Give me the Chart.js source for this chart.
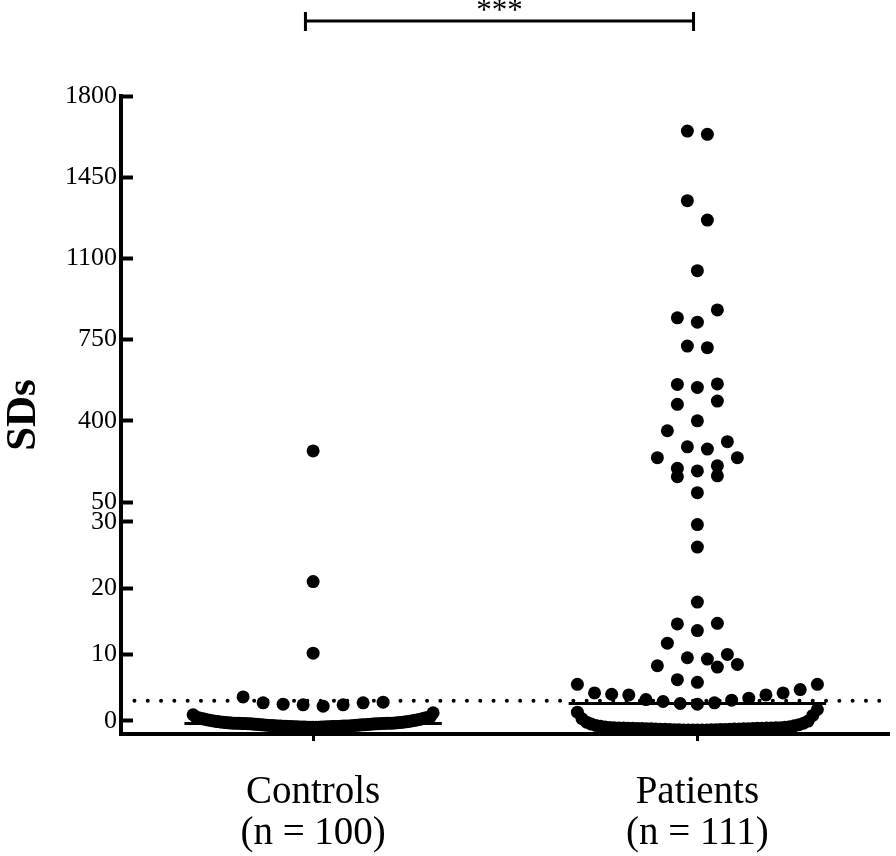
<!DOCTYPE html>
<html>
<head>
<meta charset="utf-8">
<script src="https://cdn.jsdelivr.net/npm/chart.js@4.4.1/dist/chart.umd.min.js"></script>
<style>
html,body{margin:0;padding:0;background:#fff;}
#wrap{width:896px;height:856px;position:relative;}
</style>
</head>
<body>
<div id="wrap"><canvas id="c"></canvas></div>
<script>
// ---------- data ----------
const categories = [['Controls', '(n = 100)'], ['Patients', '(n = 111)']];

const controlsValues = [
  270, 21, 10.2,
  3.6, 2.8, 2.7, 2.7, 2.5, 2.4, 2.4, 2.2,
  1.2, 0.9,
  -1.0, -1.0, -1.0, -0.98, -0.97, -0.96, -0.95, -0.95, -0.94, -0.93, -0.92, -0.91, -0.90,
  -0.89, -0.88, -0.87, -0.86, -0.85, -0.85, -0.84, -0.83, -0.82, -0.81, -0.80, -0.80, -0.79,
  -0.78, -0.76, -0.75, -0.73, -0.72, -0.70, -0.69, -0.67, -0.66, -0.64, -0.62, -0.61, -0.59, -0.57, -0.55,
  -0.54, -0.52, -0.50, -0.49, -0.47, -0.46, -0.45, -0.44, -0.43, -0.42, -0.41, -0.40, -0.39, -0.38, -0.37, -0.37, -0.36, -0.36, -0.35,
  -0.33, -0.31, -0.29, -0.27, -0.25, -0.23, -0.21, -0.19, -0.16, -0.13, -0.10, -0.07, -0.04, 0.0, 0.04,
  0.08, 0.12, 0.16, 0.2, 0.25, 0.3, 0.35, 0.4, 0.45, 0.5, 0.55, 0.6
];

const patientsValues = [
  1649, 1635, 1349, 1265, 1047, 878, 844, 825, 722, 715, 559, 557, 544, 485, 471, 400,
  357, 310, 288, 278, 241, 241, 206, 195, 184, 163, 159, 90,
  29.6, 26.2, 17.9, 14.7, 14.6, 13.6, 11.7, 10.0, 9.5, 9.3, 8.5, 8.3, 8.1, 6.2, 5.8,
  5.5, 5.5, 4.7, 4.2, 4.2, 4.0, 3.9, 3.9, 3.4, 3.2, 3.1, 2.9, 2.7, 2.6, 2.5,
  -1.40, -1.40, -1.39, -1.39, -1.38, -1.38, -1.37, -1.36, -1.35, -1.34, -1.33, -1.32, -1.31, -1.30, -1.29, -1.27, -1.25,
  -1.24, -1.23, -1.22, -1.21, -1.20, -1.19, -1.18, -1.17, -1.16, -1.15, -1.14, -1.13, -1.12, -1.11, -1.10, -1.09, -1.08, -1.06, -1.05, -1.04, -1.02, -1.00,
  -0.95, -0.90, -0.84, -0.77, -0.70, -0.60, -0.50, -0.38, -0.22, -0.05, 0.30, 0.80, 1.30, 1.70
];

const medians = [-0.4, 2.6];          // median line of each group
const cutoffValue = 3;                // dotted reference line
const yLowTicks = [0, 10, 20, 30];
const yHighTicks = [50, 400, 750, 1100, 1450, 1800];
const xTickValues = [1, 2];
const significanceText = '***';
const bracketRange = [0.98, 1.99];

// ---------- layout / style constants ----------
const SPLIT = 40;            // values above go on the upper (broken) segment
const LOW_RANGE = [-2, 33];
const HIGH_RANGE = [50, 1800];
const ROW_PX = 21;           // swarm row height (px)
const MAX_STEP = 20;         // max horizontal spacing between dots (px)
const MAX_SPAN = 240;        // max width of a swarm row (px)
const MEDIAN_HALF = 0.335;
const CUTOFF_FROM = 0.535;
const SERIF = "'Liberation Serif', 'Times New Roman', serif";

function pts(values, group, high) {
  return values.filter(v => high ? v >= SPLIT : v < SPLIT).map(v => ({x: group, y: v}));
}

const dotStyle = {
  type: 'scatter', pointRadius: 6.5, pointHoverRadius: 6.5, pointBorderWidth: 0,
  backgroundColor: '#000', borderColor: '#000', xAxisID: 'x'
};
const lineStyle = {
  type: 'line', showLine: true, pointRadius: 0, fill: false, tension: 0,
  borderColor: '#000', xAxisID: 'x', yAxisID: 'yLow'
};

const datasets = [
  Object.assign({label: 'Controls', data: pts(controlsValues, 1, false), yAxisID: 'yLow', group: 1}, dotStyle),
  Object.assign({label: 'Controls', data: pts(controlsValues, 1, true), yAxisID: 'yHigh', group: 1}, dotStyle),
  Object.assign({label: 'Patients', data: pts(patientsValues, 2, false), yAxisID: 'yLow', group: 2}, dotStyle),
  Object.assign({label: 'Patients', data: pts(patientsValues, 2, true), yAxisID: 'yHigh', group: 2}, dotStyle),
  Object.assign({label: 'median C', data: [{x: 1 - MEDIAN_HALF, y: medians[0]}, {x: 1 + MEDIAN_HALF, y: medians[0]}], borderWidth: 3}, lineStyle),
  Object.assign({label: 'median P', data: [{x: 2 - MEDIAN_HALF, y: medians[1]}, {x: 2 + MEDIAN_HALF, y: medians[1]}], borderWidth: 3}, lineStyle),
  Object.assign({label: 'cutoff', data: [{x: CUTOFF_FROM, y: cutoffValue}, {x: 2.5, y: cutoffValue}],
    borderWidth: 4, borderDash: [0, 13.3], borderCapStyle: 'round'}, lineStyle)
];

const bracketPlugin = {
  id: 'bracket',
  afterDraw(chart) {
    const {ctx, chartArea} = chart;
    const xs = chart.scales.x;
    const x1 = xs.getPixelForValue(bracketRange[0]);
    const x2 = xs.getPixelForValue(bracketRange[1]);
    const y = chartArea.top - 75;
    ctx.save();
    ctx.strokeStyle = '#000';
    ctx.lineWidth = 3;
    ctx.beginPath();
    ctx.moveTo(x1, y); ctx.lineTo(x2, y);
    ctx.moveTo(x1, y - 9); ctx.lineTo(x1, y + 10);
    ctx.moveTo(x2, y - 9); ctx.lineTo(x2, y + 10);
    ctx.stroke();
    ctx.fillStyle = '#000';
    ctx.font = '31px ' + SERIF;
    ctx.textAlign = 'center';
    ctx.textBaseline = 'alphabetic';
    ctx.fillText(significanceText, (x1 + x2) / 2, y - 1);
    ctx.restore();
  }
};

const yCommon = {
  type: 'linear', position: 'left', stack: 'sd',
  border: {display: true, color: '#000', width: 4},
  grid: {drawOnChartArea: false, drawTicks: true, tickLength: -12, tickWidth: 4, tickColor: '#000', color: '#000'},
  ticks: {color: '#000', padding: 16, font: {family: SERIF, size: 26}, callback: v => String(v), autoSkip: false},
  afterFit: s => { s.width = 74; }
};

const chart = new Chart(document.getElementById('c'), {
  type: 'scatter',
  data: {datasets},
  options: {
    responsive: true, maintainAspectRatio: false, animation: false, events: [],
    layout: {padding: {top: 96, right: 5, left: 0, bottom: 0}},
    plugins: {
      legend: {display: false}, tooltip: {enabled: false},
      title: {display: true, text: 'SDs', position: 'left', fullSize: false, color: '#000',
        font: {family: SERIF, size: 43, weight: 'bold', lineHeight: 1}, padding: {top: 2, bottom: 2}}
    },
    scales: {
      x: {
        type: 'linear', position: 'bottom', min: 0.5, max: 2.5,
        border: {display: true, color: '#000', width: 4},
        grid: {drawOnChartArea: false, drawTicks: true, tickLength: 7, tickWidth: 3, tickColor: '#000'},
        afterBuildTicks: s => { s.ticks = xTickValues.map(v => ({value: v})); },
        ticks: {color: '#000', padding: 31, maxRotation: 0, autoSkip: false,
          font: {family: SERIF, size: 39, lineHeight: 1.05},
          callback: (v, i) => categories[i]},
        afterFit: s => { s.height = 122; }
      },
      yLow: Object.assign({}, yCommon, {
        min: LOW_RANGE[0], max: LOW_RANGE[1], stackWeight: 232, weight: 0,
        afterBuildTicks: s => { s.ticks = yLowTicks.map(v => ({value: v})); }
      }),
      yHigh: Object.assign({}, yCommon, {
        min: HIGH_RANGE[0], max: HIGH_RANGE[1], stackWeight: 406, weight: 1,
        afterBuildTicks: s => { s.ticks = yHighTicks.map(v => ({value: v})); }
      })
    }
  },
  plugins: [bracketPlugin]
});

// ---------- swarm layout through the chart's own scales ----------
function swarm(groupIdx) {
  const xs = chart.scales.x;
  const cx = xs.getPixelForValue(groupIdx);
  const items = [];
  chart.data.datasets.forEach(ds => {
    if (ds.type !== 'scatter' || ds.group !== groupIdx) return;
    const sc = chart.scales[ds.yAxisID];
    ds.data.forEach(p => items.push({p, py: sc.getPixelForValue(p.y)}));
  });
  items.sort((a, b) => b.py - a.py);
  let i = 0;
  while (i < items.length) {
    let j = i;
    while (j < items.length && items[i].py - items[j].py < ROW_PX) j++;
    const row = items.slice(i, j);
    const n = row.length;
    const s = n > 1 ? Math.min(MAX_STEP, MAX_SPAN / (n - 1)) : 0;
    row.forEach((it, k) => {
      let off;
      if (n % 2 === 1) {
        const m = Math.ceil(k / 2);
        off = k === 0 ? 0 : (k % 2 === 1 ? -m : m) * s;
      } else {
        const m = Math.floor(k / 2) + 0.5;
        off = (k % 2 === 0 ? m : -m) * s;
      }
      it.p.x = xs.getValueForPixel(cx + off);
    });
    i = j;
  }
}
swarm(1);
swarm(2);
chart.update('none');
</script>
</body>
</html>
